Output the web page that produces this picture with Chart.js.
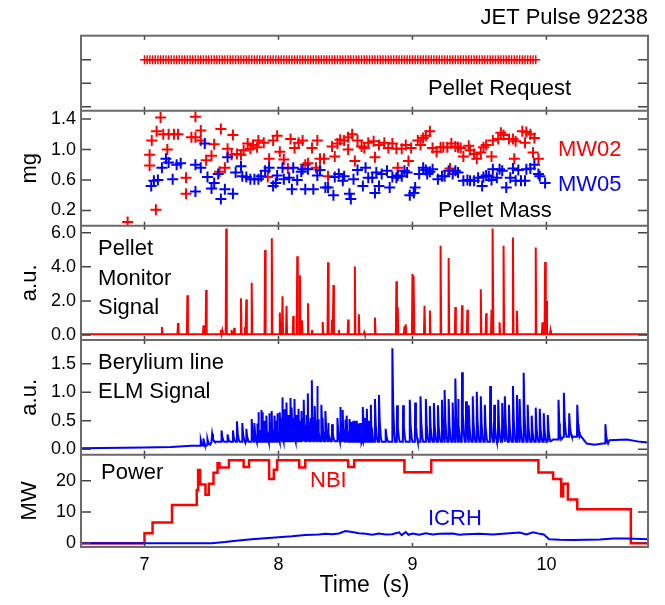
<!DOCTYPE html>
<html>
<head>
<meta charset="utf-8">
<script src="https://cdn.jsdelivr.net/npm/chart.js@4.4.1/dist/chart.umd.min.js"></script>
<style>
  html, body { margin: 0; padding: 0; background: #fff; }
  canvas { display: block; }
</style>
</head>
<body>
<canvas id="chart" width="665" height="605"></canvas>
<script>
// ---- data ----
const xTicks = [7, 8, 9, 10];

// pellet request times (s)
const requestTimes = [
  7.00,7.02,7.04,7.06,7.08,7.10,7.12,7.14,7.16,7.18,7.20,7.22,7.24,7.26,7.28,7.30,7.32,7.34,7.36,7.38,
  7.40,7.42,7.44,7.46,7.48,7.50,7.52,7.54,7.56,7.58,7.60,7.62,7.64,7.66,7.68,7.70,7.72,7.74,7.76,7.78,
  7.80,7.82,7.84,7.86,7.88,7.90,7.92,7.94,7.96,7.98,8.00,8.02,8.04,8.06,8.08,8.10,8.12,8.14,8.16,8.18,
  8.20,8.22,8.24,8.26,8.28,8.30,8.32,8.34,8.36,8.38,8.40,8.42,8.44,8.46,8.48,8.50,8.52,8.54,8.56,8.58,
  8.60,8.62,8.64,8.66,8.68,8.70,8.72,8.74,8.76,8.78,8.80,8.82,8.84,8.86,8.88,8.90,8.92,8.94,8.96,8.98,
  9.00,9.02,9.04,9.06,9.08,9.10,9.12,9.14,9.16,9.18,9.20,9.22,9.24,9.26,9.28,9.30,9.32,9.34,9.36,9.38,
  9.40,9.42,9.44,9.46,9.48,9.50,9.52,9.54,9.56,9.58,9.60,9.62,9.64,9.66,9.68,9.70,9.72,9.74,9.76,9.78,
  9.80,9.82,9.84,9.86,9.88,9.90,9.92
];
const requestLevel = 2;

// pellet mass (mg) [time, mass]
const mw02 = [
  [6.874,0.05],[7.038,0.79],[7.038,0.93],[7.054,1.12],[7.085,0.21],[7.09,1.24],[7.12,1.42],[7.14,1.20],
  [7.17,1.00],[7.18,1.20],[7.22,1.20],[7.25,1.20],[7.31,0.63],[7.31,0.42],[7.35,1.16],[7.38,1.43],
  [7.38,1.16],[7.42,1.25],[7.42,1.12],[7.46,0.86],[7.50,0.92],[7.52,1.07],[7.56,0.71],[7.57,1.27],
  [7.60,0.76],[7.62,1.01],[7.65,0.93],[7.66,1.19],[7.69,0.94],[7.72,0.93],[7.74,0.99],[7.77,1.08],
  [7.79,1.01],[7.81,1.06],[7.84,1.03],[7.85,1.12],[7.89,1.09],[7.92,0.64],[7.93,0.88],[7.96,1.12],
  [7.99,1.18],[8.01,0.97],[8.04,0.87],[8.07,0.75],[8.09,1.14],[8.12,1.02],[8.15,1.09],[8.18,1.12],
  [8.20,0.80],[8.22,0.82],[8.25,1.02],[8.28,0.76],[8.29,1.12],[8.31,0.88],[8.34,0.88],[8.37,0.65],
  [8.40,1.04],[8.42,0.91],[8.44,1.08],[8.46,1.13],[8.49,1.12],[8.52,1.16],[8.52,1.00],[8.55,1.20],
  [8.57,0.85],[8.59,1.12],[8.62,1.04],[8.64,1.02],[8.67,1.09],[8.71,1.11],[8.72,0.90],[8.75,1.06],
  [8.79,1.09],[8.82,1.02],[8.85,1.08],[8.88,1.01],[8.89,0.76],[8.92,1.01],[8.95,1.06],[8.97,0.85],
  [8.99,1.02],[9.04,1.12],[9.06,1.06],[9.08,1.15],[9.10,1.18],[9.13,1.24],[9.15,1.02],[9.18,0.97],
  [9.21,1.03],[9.23,1.03],[9.26,1.03],[9.28,0.75],[9.29,1.08],[9.32,1.04],[9.34,1.03],[9.36,1.02],
  [9.38,0.91],[9.42,1.05],[9.43,0.99],[9.46,0.94],[9.48,0.88],[9.51,0.96],[9.53,1.03],[9.55,1.06],
  [9.59,0.91],[9.60,1.12],[9.64,1.14],[9.66,1.22],[9.68,1.19],[9.72,1.14],[9.75,1.14],[9.76,0.88],
  [9.77,1.11],[9.82,1.24],[9.84,1.09],[9.85,1.23],[9.88,1.20],[9.90,0.96],[9.91,1.15],[9.94,0.88]
];
const mw05 = [
  [7.05,0.52],[7.07,0.59],[7.10,0.60],[7.13,0.76],[7.16,0.88],[7.18,0.83],[7.21,0.61],[7.24,0.80],
  [7.27,0.82],[7.38,0.80],[7.38,0.45],[7.42,0.76],[7.45,1.08],[7.47,0.64],[7.50,0.49],[7.52,0.56],
  [7.55,0.68],[7.57,0.35],[7.60,0.48],[7.62,0.90],[7.66,0.42],[7.68,0.70],[7.72,0.78],[7.73,0.65],
  [7.76,0.64],[7.79,0.61],[7.82,0.61],[7.85,0.61],[7.87,0.65],[7.90,0.72],[7.93,0.76],[7.96,0.52],
  [7.98,0.56],[7.99,0.66],[8.03,0.76],[8.04,0.61],[8.08,0.63],[8.10,0.48],[8.11,0.76],[8.14,0.60],
  [8.17,0.71],[8.18,0.74],[8.20,0.48],[8.22,0.74],[8.26,0.48],[8.29,0.66],[8.31,0.73],[8.35,0.50],
  [8.37,0.50],[8.41,0.40],[8.42,0.64],[8.45,0.68],[8.48,0.59],[8.49,0.65],[8.53,0.42],[8.54,0.35],
  [8.56,0.61],[8.59,0.73],[8.63,0.52],[8.65,0.76],[8.67,0.63],[8.70,0.63],[8.72,0.43],[8.73,0.70],
  [8.75,0.52],[8.77,0.68],[8.81,0.72],[8.83,0.50],[8.85,0.64],[8.88,0.63],[8.89,0.66],[8.92,0.65],
  [8.94,0.72],[8.96,0.70],[8.98,0.40],[9.01,0.43],[9.02,0.50],[9.05,0.68],[9.08,0.76],[9.10,0.73],
  [9.11,0.68],[9.13,0.71],[9.15,0.74],[9.19,0.61],[9.22,0.65],[9.24,0.65],[9.27,0.72],[9.30,0.68],
  [9.32,0.72],[9.34,0.70],[9.38,0.59],[9.41,0.60],[9.43,0.59],[9.46,0.59],[9.49,0.63],[9.52,0.52],
  [9.53,0.64],[9.55,0.66],[9.57,0.65],[9.59,0.60],[9.60,0.74],[9.63,0.63],[9.65,0.74],[9.67,0.72],
  [9.70,0.50],[9.73,0.63],[9.75,0.75],[9.77,0.59],[9.79,0.73],[9.81,0.59],[9.84,0.59],[9.85,0.74],
  [9.88,0.75],[9.91,0.80],[9.94,0.68],[9.95,0.65],[9.99,0.56]
];

// pellet monitor signal (a.u.) [time, peak]
const monitorBase = 0.05;
const monitorSpikes = [
  [7.13,0.47],[7.25,0.71],[7.32,2.33],[7.44,0.57],[7.46,2.64],[7.57,0.30],[7.58,0.26],[7.61,6.25],
  [7.65,0.30],[7.67,0.43],[7.72,2.15],[7.75,0.47],[7.76,2.09],[7.80,3.06],[7.90,4.99],[7.95,5.68],
  [8.01,1.32],[8.03,2.27],[8.06,1.72],[8.11,1.12],[8.14,4.62],[8.16,3.51],[8.175,0.87],[8.22,1.87],
  [8.25,0.30],[8.33,0.77],[8.37,4.26],[8.40,0.91],[8.41,2.94],[8.45,0.30],[8.52,0.91],[8.57,4.02],
  [8.60,1.22],[8.64,0.16],[8.72,1.03],[8.88,3.16],[8.89,1.64],[8.94,0.51],[8.95,0.63],[9.00,3.59],
  [9.01,3.47],[9.09,1.72],[9.13,1.44],[9.21,5.23],[9.27,4.52],[9.32,1.64],[9.37,1.74],[9.41,1.48],
  [9.51,2.68],[9.55,1.28],[9.59,1.48],[9.60,6.25],[9.65,0.75],[9.68,5.23],[9.75,5.72],[9.78,1.42],
  [9.92,5.13],[9.97,0.75],[9.99,4.28],[10.00,2.00],[10.03,0.26]
];

// beryllium line ELM signal (a.u.)
const elmBase = [
  [6.526,0.02],[7.0,0.03],[7.2,0.04],[7.35,0.06],[7.45,0.08],[7.5,0.13],[8.0,0.14],[8.5,0.13],
  [9.0,0.13],[9.5,0.13],[10.0,0.14],[10.05,0.17],[10.1,0.22],[10.25,0.2],[10.3,0.1],[10.36,0.08],
  [10.42,0.1],[10.47,0.16],[10.6,0.17],[10.7,0.13],[10.758,0.12]
];
const elmSpikes = [
  [7.42,0.16],[7.44,0.19],[7.47,0.18],[7.505,0.27],[7.575,0.33],[7.62,0.26],[7.66,0.33],[7.69,0.49],
  [7.73,0.46],[7.76,0.36],[7.80,0.53],[7.82,0.46],[7.84,0.45],[7.85,0.65],[7.87,0.69],[7.88,0.65],
  [7.895,0.50],[7.91,0.59],[7.93,0.63],[7.94,0.48],[7.95,0.67],[7.97,0.59],[7.98,0.50],[7.99,0.63],
  [8.01,0.65],[8.02,0.55],[8.03,0.91],[8.045,0.70],[8.06,0.82],[8.075,0.60],[8.09,0.90],[8.10,0.73],
  [8.11,0.55],[8.12,0.88],[8.135,0.60],[8.15,0.71],[8.16,0.50],[8.17,0.67],[8.18,0.55],[8.19,0.87],
  [8.21,0.60],[8.22,0.98],[8.24,0.55],[8.25,1.21],[8.27,0.76],[8.28,0.50],[8.29,1.11],[8.32,0.78],
  [8.33,0.55],[8.35,0.67],[8.37,0.46],[8.40,0.44],[8.44,0.55],[8.46,0.74],[8.47,0.50],[8.48,0.69],
  [8.50,0.52],[8.51,0.59],[8.53,0.53],[8.545,0.48],[8.56,0.50],[8.57,0.50],[8.585,0.50],[8.60,0.45],
  [8.61,0.46],[8.63,0.74],[8.645,0.55],[8.66,0.71],[8.675,0.50],[8.69,0.78],[8.72,0.88],[8.75,0.95],
  [8.80,0.36],[8.85,1.77],[8.885,0.77],[8.93,0.77],[8.98,0.87],[9.02,0.82],[9.06,0.93],[9.10,0.88],
  [9.13,0.76],[9.16,0.81],[9.19,0.77],[9.22,0.87],[9.24,1.04],[9.27,0.88],[9.30,0.82],[9.32,1.24],
  [9.34,0.88],[9.37,1.35],[9.40,0.84],[9.42,0.77],[9.45,0.93],[9.48,1.01],[9.51,0.93],[9.54,0.78],
  [9.58,1.11],[9.61,0.78],[9.64,0.87],[9.67,0.81],[9.69,0.93],[9.72,0.78],[9.75,1.11],[9.78,0.95],
  [9.80,0.88],[9.83,1.34],[9.86,0.78],[9.89,0.59],[9.92,0.73],[9.95,0.71],[9.98,0.63],[10.01,0.60],
  [10.09,0.87],[10.13,0.99],[10.17,0.63],[10.23,0.78],[10.24,0.44],[10.44,0.44]
];

// heating power (MW): NBI as steps [start time, level], ICRH as trace
const nbiSteps = [
  [6.526,0],[7.00,3.2],[7.06,6.6],[7.205,12.2],[7.39,17.0],[7.40,23.4],[7.415,18.8],[7.455,15.5],
  [7.48,19.0],[7.515,22.5],[7.545,25.6],[7.56,24.2],[7.63,26.5],[7.74,24.4],[7.78,26.5],[7.93,20.5],
  [7.965,23.5],[7.99,26.5],[8.155,24.2],[8.20,26.5],[8.52,24.4],[8.565,26.5],[8.94,22.7],[9.14,26.5],
  [9.94,22.6],[10.05,20.5],[10.11,15.0],[10.125,19.0],[10.16,14.0],[10.23,10.9],[10.63,0],[10.758,0]
];
const icrh = [
  [6.526,0],[7.5,0],[7.6,0.4],[7.7,0.9],[7.8,1.3],[7.9,1.6],[8.0,1.9],[8.1,2.2],[8.2,2.6],[8.3,2.8],
  [8.35,3.0],[8.4,2.9],[8.45,3.1],[8.5,3.9],[8.55,3.6],[8.6,3.2],[8.65,3.0],[8.7,2.7],[8.75,3.1],
  [8.8,2.8],[8.85,2.9],[8.9,3.5],[8.92,2.6],[8.95,3.6],[8.97,2.7],[9.0,3.1],[9.05,2.7],[9.1,3.2],
  [9.15,2.8],[9.2,3.0],[9.3,3.1],[9.35,2.7],[9.4,2.9],[9.5,3.0],[9.6,2.8],[9.7,3.1],[9.8,3.4],
  [9.85,2.8],[9.9,3.5],[9.95,3.0],[9.98,2.8],[10.02,1.3],[10.1,1.1],[10.2,1.0],[10.3,1.1],[10.4,1.2],
  [10.5,1.5],[10.6,1.5],[10.758,1.3]
];

// ---- build traces ----
const X_MIN = 6.526, X_MAX = 10.758;
const RED = '#ff0000', BLUE = '#0000ff';
const FONT = '"Liberation Sans", Arial, Helvetica, sans-serif';

const toXY = arr => arr.map(([x, y]) => ({x, y}));

const monitorTrace = [{x: X_MIN, y: monitorBase}];
monitorSpikes.forEach(([t, h]) => {
  monitorTrace.push({x: t - 0.004, y: monitorBase}, {x: t, y: h}, {x: t + 0.004, y: monitorBase});
});
monitorTrace.push({x: X_MAX, y: monitorBase});

function elmBaseAt(t) {
  let b = elmBase[0][1];
  for (const [bt, bv] of elmBase) if (bt <= t) b = bv;
  return b;
}
// each ELM: fast rise, slower decay back to the baseline
const elmTrace = toXY(elmBase);
elmSpikes.forEach(([t, h]) => {
  const b = elmBaseAt(t);
  elmTrace.push({x: t - 0.002, y: b}, {x: t, y: h},
    {x: t + 0.006, y: b + (h - b) * 0.4}, {x: t + 0.014, y: b + (h - b) * 0.1}, {x: t + 0.02, y: b});
});
elmTrace.sort((a, b) => a.x - b.x);

// ---- axes ----
function yAxis(weight, stackWeight, min, max, ticks, fmt, title) {
  return {
    type: 'linear', position: 'left', stack: 'panels', weight, stackWeight, min, max,
    afterBuildTicks: s => { s.ticks = ticks.map(v => ({value: v})); },
    afterFit: s => { s.width = 81; },
    grid: {display: false, drawTicks: false},
    border: {display: false},
    ticks: {font: {family: FONT, size: 18}, color: '#000', padding: 5, autoSkip: false, callback: fmt},
    title: {display: !!title, text: title || '', color: '#000',
            font: {family: FONT, size: 22}, padding: {top: 17, bottom: 0}}
  };
}

const notes = [
  {text: 'Pellet Request', x: 428, y: 89, color: '#000'},
  {text: 'Pellet Mass', x: 438, y: 211, color: '#000'},
  {text: 'MW02', x: 558, y: 150, color: RED},
  {text: 'MW05', x: 558, y: 185, color: BLUE},
  {text: 'Pellet', x: 98, y: 249, color: '#000'},
  {text: 'Monitor', x: 98, y: 279, color: '#000'},
  {text: 'Signal', x: 98, y: 308, color: '#000'},
  {text: 'Berylium line', x: 98, y: 363, color: '#000'},
  {text: 'ELM Signal', x: 98, y: 392, color: '#000'},
  {text: 'Power', x: 101, y: 473, color: '#000'},
  {text: 'NBI', x: 310, y: 481, color: RED},
  {text: 'ICRH', x: 428, y: 519, color: BLUE}
];

const panelFrames = {
  id: 'panelFrames',
  afterDatasetsDraw(chart) {
    const {ctx, chartArea: a, scales} = chart;
    const ids = ['y1', 'y2', 'y3', 'y4', 'y5'];
    ctx.save();
    // inward ticks
    ctx.strokeStyle = '#444';
    ctx.lineWidth = 1.5;
    ctx.beginPath();
    ids.forEach(id => {
      const s = scales[id];
      s.ticks.forEach(t => {
        const y = s.getPixelForValue(t.value);
        ctx.moveTo(a.left, y); ctx.lineTo(a.left + 10, y);
        ctx.moveTo(a.right - 10, y); ctx.lineTo(a.right, y);
      });
      xTicks.forEach(v => {
        const x = scales.x.getPixelForValue(v);
        ctx.moveTo(x, s.top); ctx.lineTo(x, s.top + 4);
        ctx.moveTo(x, s.bottom - 4); ctx.lineTo(x, s.bottom);
      });
    });
    ctx.stroke();
    // frames
    ctx.strokeStyle = '#6a6a6a';
    ctx.lineWidth = 2;
    ctx.strokeRect(a.left, a.top, a.right - a.left, a.bottom - a.top);
    ctx.beginPath();
    ids.slice(1).forEach(id => {
      const y = scales[id].top;
      ctx.moveTo(a.left, y); ctx.lineTo(a.right, y);
    });
    ctx.stroke();
    // panel labels
    ctx.font = '22px ' + FONT;
    ctx.textBaseline = 'middle';
    ctx.textAlign = 'left';
    notes.forEach(n => { ctx.fillStyle = n.color; ctx.fillText(n.text, n.x, n.y); });
    ctx.restore();
  }
};

const fmt1 = v => v.toFixed(1);

new Chart(document.getElementById('chart'), {
  type: 'line',
  data: {
    datasets: [
      {label: 'ICRH', data: toXY(icrh), yAxisID: 'y5', borderColor: BLUE, borderWidth: 2, pointRadius: 0},
      {label: 'NBI', data: toXY(nbiSteps), yAxisID: 'y5', borderColor: RED, borderWidth: 2.5,
       pointRadius: 0, stepped: true},
      {label: 'ELM', data: elmTrace, yAxisID: 'y4', borderColor: BLUE, borderWidth: 2, pointRadius: 0},
      {label: 'Monitor', data: monitorTrace, yAxisID: 'y3', borderColor: RED, borderWidth: 2, pointRadius: 0},
      {label: 'MW05', data: toXY(mw05), yAxisID: 'y2', showLine: false, pointStyle: 'cross',
       pointRadius: 5.5, borderColor: BLUE, borderWidth: 2},
      {label: 'MW02', data: toXY(mw02), yAxisID: 'y2', showLine: false, pointStyle: 'cross',
       pointRadius: 5.5, borderColor: RED, borderWidth: 2},
      {label: 'Request', data: requestTimes.map(t => ({x: t, y: requestLevel})), yAxisID: 'y1',
       showLine: false, pointStyle: 'cross', pointRadius: 4.5, borderColor: RED, borderWidth: 1.5}
    ]
  },
  options: {
    responsive: false,
    animation: false,
    devicePixelRatio: 1,
    layout: {padding: {left: 0, right: 17, top: 0, bottom: 0}},
    plugins: {
      legend: {display: false},
      tooltip: {enabled: false},
      title: {
        display: true, text: 'JET Pulse 92238', align: 'end', color: '#000',
        font: {family: FONT, size: 22, weight: 'normal'}, padding: {top: 5, bottom: 4.3}
      }
    },
    scales: {
      x: {
        type: 'linear', position: 'bottom', min: X_MIN, max: X_MAX,
        afterBuildTicks: s => { s.ticks = xTicks.map(v => ({value: v})); },
        afterFit: s => { s.height = 58; },
        grid: {display: false, drawTicks: false},
        border: {display: false},
        ticks: {font: {family: FONT, size: 18}, color: '#000', padding: 7, maxRotation: 0, autoSkip: false},
        title: {display: true, text: 'Time  (s)', color: '#000',
                font: {family: FONT, size: 23}, padding: {top: 0, bottom: 6}}
      },
      y1: yAxis(5, 75, -0.17, 3.02, [0, 1, 2], () => '', ''),
      y2: yAxis(4, 115, 0, 1.51, [0.2, 0.6, 1.0, 1.4], fmt1, 'mg'),
      y3: yAxis(3, 114.3, -0.29, 6.41, [0, 2, 4, 6], fmt1, 'a.u.'),
      y4: yAxis(2, 114.7, -0.095, 1.916, [0, 0.5, 1.0, 1.5], fmt1, 'a.u.'),
      y5: yAxis(1, 92.3, -1.2, 28.3, [0, 10, 20], v => String(v), 'MW')
    }
  },
  plugins: [panelFrames]
});
</script>
</body>
</html>
